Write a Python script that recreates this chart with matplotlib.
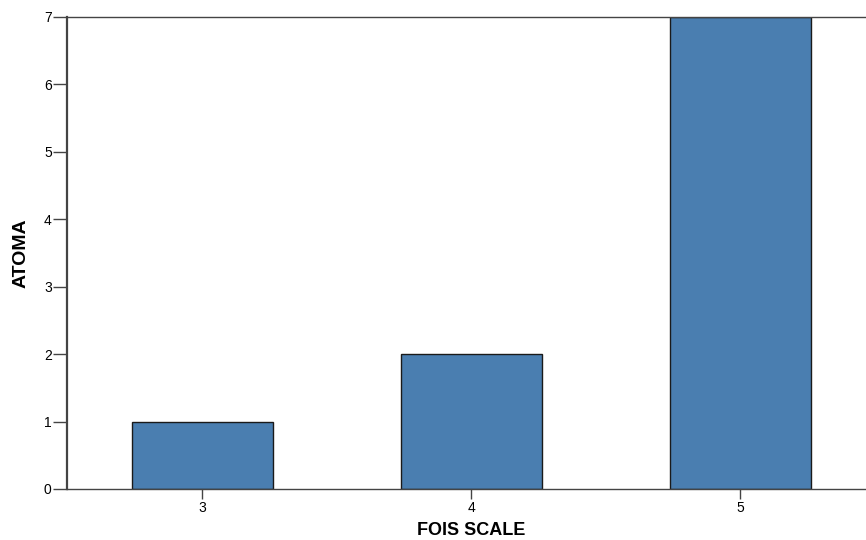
import matplotlib
matplotlib.use("Agg")
import matplotlib.pyplot as plt

categories = ["3", "4", "5"]
positions = [3, 4, 5]
counts = [1, 2, 7]
y_ticks = [0, 1, 2, 3, 4, 5, 6, 7]

plt.rcParams['font.family'] = ['Liberation Sans', 'DejaVu Sans']

fig = plt.figure(figsize=(8.66, 5.40), dpi=100)
ax = fig.add_axes([67/866, 51/540, 1 - 67/866 + 0.01, (489 - 17)/540])

ax.bar(positions, counts, width=0.524, color='#4a7eb0', edgecolor='#1a1a1a', linewidth=1.0, zorder=2)

ax.set_xlim(2.498, 5.5)
ax.set_ylim(0, 7)
ax.set_xticks(positions)
ax.set_xticklabels(categories)
ax.set_yticks(y_ticks)

ax.spines['left'].set_linewidth(1.6)
ax.spines['left'].set_color('#444444')
for s in ['top', 'bottom']:
    ax.spines[s].set_linewidth(1.0)
    ax.spines[s].set_color('#444444')
ax.spines['right'].set_visible(False)

ax.tick_params(axis='y', direction='out', length=10, width=1, color='#444444', labelsize=10, pad=1)
ax.tick_params(axis='x', direction='out', length=7, width=1, color='#444444', labelsize=10, pad=2)

ax.set_xlabel('FOIS SCALE', fontsize=13, fontweight='bold', labelpad=5)
ax.set_ylabel('ATOMA', fontsize=14, fontweight='bold', labelpad=10)

fig.savefig('out.png', dpi=100)
